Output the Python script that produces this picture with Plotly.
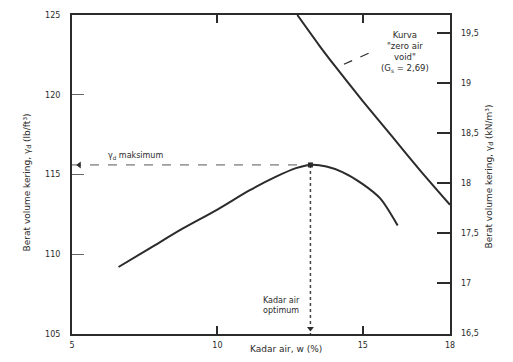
import plotly.graph_objects as go

# Compaction test: dry unit weight vs moisture content
moisture = [6.6, 7.7, 8.8, 10.0, 11.1, 12.0, 12.7, 13.2, 13.75, 14.3, 15.0, 15.6, 16.2]
dry_unit_weight = [109.2, 110.4, 111.6, 112.8, 114.0, 114.85, 115.4, 115.6, 115.5, 115.15, 114.4, 113.5, 111.8]

# Zero-air-void curve (Gs = 2,69)
zav_moisture = [12.75, 13.5, 14.0, 15.0, 16.0, 17.0, 18.0]
zav_unit_weight = [125.0, 123.1, 121.9, 119.6, 117.4, 115.2, 113.1]

# Optimum point
w_opt = 13.2
gd_max = 115.6

x_ticks = [5, 10, 15, 18]
x_ticktext = ["5", "10", "15", "18"]
left_ticks = [105, 110, 115, 120, 125]
left_ticktext = ["105", "110", "115", "120", "125"]
right_ticks = [16.5, 17.0, 17.5, 18.0, 18.5, 19.0, 19.5]
right_ticktext = ["16,5", "17", "17,5", "18", "18,5", "19", "19,5"]

ink = "#2b2b2b"
font = dict(family="DejaVu Sans", size=8, color=ink)

fig = go.Figure()

fig.add_trace(go.Scatter(
    x=moisture, y=dry_unit_weight, mode="lines",
    line=dict(color=ink, width=2, shape="spline", smoothing=0.8),
    hoverinfo="skip", showlegend=False))

fig.add_trace(go.Scatter(
    x=zav_moisture, y=zav_unit_weight, mode="lines",
    line=dict(color=ink, width=2, shape="spline", smoothing=0.6),
    hoverinfo="skip", showlegend=False))

# dashed guides to the axes
fig.add_trace(go.Scatter(
    x=[5, w_opt], y=[gd_max, gd_max], mode="lines",
    line=dict(color="#555555", width=1, dash="dash"),
    hoverinfo="skip", showlegend=False))
fig.add_trace(go.Scatter(
    x=[w_opt, w_opt], y=[gd_max, 105], mode="lines",
    line=dict(color="#444444", width=1.5, dash="dot"),
    hoverinfo="skip", showlegend=False))

# arrowheads and the optimum point
fig.add_trace(go.Scatter(
    x=[5.25], y=[gd_max], mode="markers",
    marker=dict(symbol="triangle-left", size=6, color=ink),
    hoverinfo="skip", showlegend=False, cliponaxis=False))
fig.add_trace(go.Scatter(
    x=[w_opt], y=[105.35], mode="markers",
    marker=dict(symbol="triangle-down", size=6, color=ink),
    hoverinfo="skip", showlegend=False, cliponaxis=False))
fig.add_trace(go.Scatter(
    x=[w_opt], y=[gd_max], mode="markers",
    marker=dict(symbol="square", size=5, color=ink),
    hoverinfo="skip", showlegend=False, cliponaxis=False))

# companion trace for the kN/m3 axis
fig.add_trace(go.Scatter(
    x=[5], y=[17], yaxis="y2", mode="markers",
    marker=dict(opacity=0), hoverinfo="skip", showlegend=False))

# leader from the label to the zero-air-void curve
fig.add_trace(go.Scatter(
    x=[15.2, 14.15], y=[122.6, 121.75], mode="lines",
    line=dict(color=ink, width=1.2, dash="dash"),
    hoverinfo="skip", showlegend=False))

fig.update_layout(
    width=513, height=362,
    margin=dict(l=72, r=63, t=11, b=28),
    paper_bgcolor="white", plot_bgcolor="white",
    font=font,
    xaxis=dict(
        range=[5, 18], tickvals=x_ticks, ticktext=x_ticktext,
        ticks="inside", ticklen=8, tickwidth=1.5, tickcolor=ink,
        showline=True, linecolor=ink, linewidth=2, mirror="ticks",
        showgrid=False, zeroline=False, tickfont=font, ticklabelstandoff=2),
    yaxis=dict(
        range=[105, 125], tickvals=left_ticks, ticktext=left_ticktext,
        ticks="inside", ticklen=12, tickwidth=1, tickcolor="#666666",
        showline=True, linecolor=ink, linewidth=2, mirror=True,
        showgrid=False, zeroline=False, tickfont=font, ticklabelstandoff=8),
    yaxis2=dict(
        range=[16.49, 19.68], tickvals=right_ticks, ticktext=right_ticktext,
        overlaying="y", side="right",
        ticks="inside", ticklen=13, tickwidth=1.5, tickcolor=ink,
        showline=False, showgrid=False, zeroline=False,
        tickfont=font, ticklabelstandoff=10),
)

plot_w = 513 - 72 - 63
plot_h = 362 - 11 - 28
title_font = dict(family="DejaVu Sans", size=9, color=ink)

fig.add_annotation(text="Kadar air, w (%)", xref="paper", yref="paper",
                   x=(286 - 72) / plot_w, y=-(356 - 334) / plot_h,
                   showarrow=False, font=title_font)
fig.add_annotation(text="Berat volume kering, γ<sub>d</sub> (lb/ft³)", xref="paper", yref="paper",
                   x=-(72 - 20) / plot_w, y=(334 - 181) / plot_h,
                   textangle=-90, showarrow=False, font=title_font)
fig.add_annotation(text="Berat volume kering, γ<sub>d</sub> (kN/m³)", xref="paper", yref="paper",
                   x=(497 - 72) / plot_w, y=(334 - 175) / plot_h,
                   textangle=-90, showarrow=False, font=title_font)

fig.add_annotation(text="γ<sub>d</sub> maksimum", x=7.2, y=116.15, showarrow=False,
                   font=dict(family="DejaVu Sans", size=8, color=ink))
fig.add_annotation(text="Kadar air<br>optimum", x=12.2, y=106.8, showarrow=False,
                   font=dict(family="DejaVu Sans", size=8, color=ink))
fig.add_annotation(text="Kurva<br>\"zero air<br>void\"<br>(G<sub>s</sub> = 2,69)",
                   x=16.45, y=122.65, showarrow=False,
                   font=dict(family="DejaVu Sans", size=8.5, color=ink))

fig.write_html("out.html")
